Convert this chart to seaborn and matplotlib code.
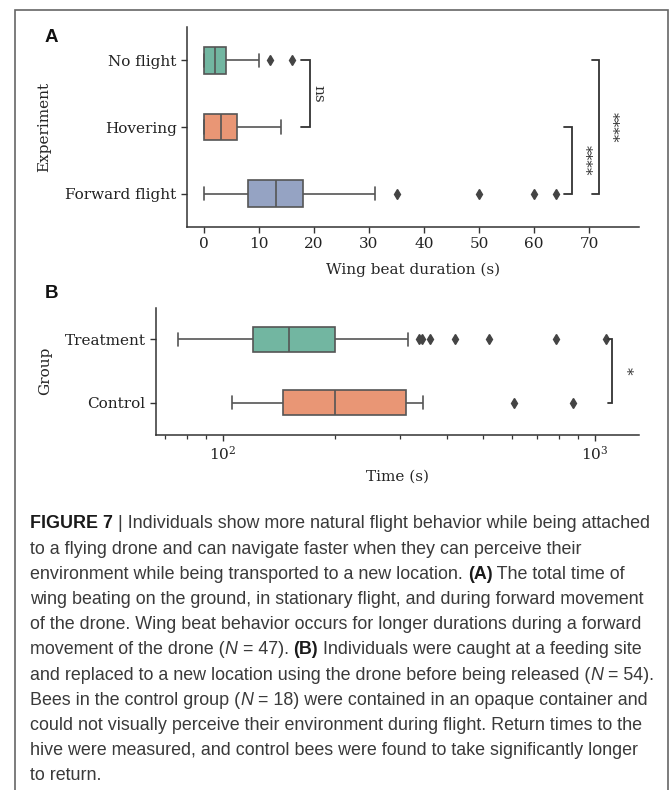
import numpy as np
import pandas as pd
import matplotlib
matplotlib.use("Agg")
import matplotlib.pyplot as plt
import seaborn as sns
from matplotlib.patches import Rectangle

# ---- Panel A: wing beat duration per experiment (s) ----
experiments = ["No flight", "Hovering", "Forward flight"]
no_flight = [0, 0, 0, 0, 1, 2, 2, 3, 4, 4, 10, 12, 16]
hovering = [0, 0, 0, 0, 1, 2, 3, 4, 5, 6, 8, 11, 14]
forward_flight = [0, 2, 4, 6, 7, 8, 9, 10, 11, 12, 13, 14, 15, 16, 17, 18,
                  31, 35, 50, 60, 64]
a_ticks = [0, 10, 20, 30, 40, 50, 60, 70]

# ---- Panel B: return time per group (s) ----
groups = ["Treatment", "Control"]
treatment = [75.7, 82, 90, 97, 103, 108, 113, 117, 121, 121,
             124, 128, 132, 136, 140, 144, 148, 151, 151,
             155, 160, 166, 172, 180, 188, 195, 201, 201,
             315, 336.6, 344, 360, 421.5, 520, 789, 1070]
control = [106, 118, 130, 140, 145.5, 145.5, 165, 185, 201, 201,
           240, 280, 312, 312, 330, 346, 606, 873]

# significance brackets: (x_end, x_bar, y_from, y_to, label)
brackets_a = [(17.6, 19.3, 0, 1, "ns"),
              (65.5, 66.9, 1, 2, "****"),
              (70.5, 71.8, 0, 2, "****")]
label_x_a = [20.8, 69.3, 74.2]
brackets_b = [(1084, 1115, 0, 1, "*")]
label_x_b = [1209]

caption_lines = [
    [("FIGURE 7 ", "bold"), ("| Individuals show more natural flight behavior while being attached", None)],
    [("to a flying drone and can navigate faster when they can perceive their", None)],
    [("environment while being transported to a new location. ", None), ("(A)", "bold"),
     (" The total time of", None)],
    [("wing beating on the ground, in stationary flight, and during forward movement", None)],
    [("of the drone. Wing beat behavior occurs for longer durations during a forward", None)],
    [("movement of the drone (", None), ("N", "italic"), (" = 47). ", None), ("(B)", "bold"),
     (" Individuals were caught at a feeding site", None)],
    [("and replaced to a new location using the drone before being released (", None),
     ("N", "italic"), (" = 54).", None)],
    [("Bees in the control group (", None), ("N", "italic"),
     (" = 18) were contained in an opaque container and", None)],
    [("could not visually perceive their environment during flight. Return times to the", None)],
    [("hive were measured, and control bees were found to take significantly longer", None)],
    [("to return.", None)],
]

sns.set_theme(style="ticks")
plt.rcParams["font.family"] = ["DejaVu Serif"]
plt.rcParams["mathtext.fontset"] = "dejavuserif"

W, H = 670, 790
fig = plt.figure(figsize=(W / 100, H / 100), dpi=100)


def axes_px(left, top, right, bottom):
    return fig.add_axes([left / W, 1 - bottom / H, (right - left) / W, (bottom - top) / H])


line_col = "#555555"
tick_fs = 11
flier_kw = dict(marker="d", markerfacecolor="#444444", markeredgecolor="#444444",
                markersize=4.8)

# ---------- Panel A ----------
axA = axes_px(187, 27, 639, 227)
dfA = pd.DataFrame({
    "Experiment": ["No flight"] * len(no_flight) + ["Hovering"] * len(hovering)
                  + ["Forward flight"] * len(forward_flight),
    "Wing beat duration (s)": no_flight + hovering + forward_flight,
})
sns.boxplot(data=dfA, x="Wing beat duration (s)", y="Experiment", hue="Experiment",
            order=experiments, hue_order=experiments, palette="Set2", orient="h",
            width=0.4, linewidth=1.2, linecolor=line_col, flierprops=flier_kw,
            legend=False, ax=axA)
axA.set_xlim(-3.1, 79.1)
axA.set_ylim(2.5, -0.5)
axA.set_xticks(a_ticks)
for (x0, x1, y0, y1, lab), tx in zip(brackets_a, label_x_a):
    axA.plot([x0, x1, x1, x0], [y0, y0, y1, y1], color="#333333", lw=1.3,
             solid_joinstyle="miter", clip_on=False)
    axA.text(tx, (y0 + y1) / 2, lab, rotation=-90, ha="center", va="center",
             fontsize=tick_fs, color="#333333")
axA.set_xlabel("Wing beat duration (s)", fontsize=tick_fs)
axA.set_ylabel("Experiment", fontsize=tick_fs)
axA.yaxis.set_label_coords(-0.301, 0.5)
axA.xaxis.set_label_coords(0.5, -0.18)

# ---------- Panel B ----------
axB = axes_px(156, 307.5, 639, 434.5)
dfB = pd.DataFrame({
    "Group": ["Treatment"] * len(treatment) + ["Control"] * len(control),
    "Time (s)": treatment + control,
})
sns.boxplot(data=dfB, x="Time (s)", y="Group", hue="Group", order=groups,
            hue_order=groups, palette="Set2", orient="h", width=0.4, linewidth=1.2,
            linecolor=line_col, flierprops=flier_kw, legend=False, ax=axB)
axB.set_xscale("log")
axB.set_xlim(66.2, 1316)
axB.set_ylim(1.5, -0.5)
for (x0, x1, y0, y1, lab), tx in zip(brackets_b, label_x_b):
    axB.plot([x0, x1, x1, x0], [y0, y0, y1, y1], color="#333333", lw=1.3,
             solid_joinstyle="miter", clip_on=False)
    axB.text(tx, (y0 + y1) / 2, lab, rotation=-90, ha="center", va="center",
             fontsize=tick_fs, color="#333333")
axB.set_xlabel("Time (s)", fontsize=tick_fs)
axB.set_ylabel("Group", fontsize=tick_fs)
axB.yaxis.set_label_coords(-0.215, 0.5)
axB.xaxis.set_label_coords(0.5, -0.276)

for ax in (axA, axB):
    sns.despine(ax=ax)
    for s in ("left", "bottom"):
        ax.spines[s].set_color("#333333")
        ax.spines[s].set_linewidth(1.1)
    ax.tick_params(axis="both", which="major", length=4.5, width=1.0, pad=3,
                   labelsize=tick_fs, colors="#333333", labelcolor="#222222")
    ax.tick_params(axis="x", which="minor", length=3.2, width=0.9, colors="#333333")

# ---------- panel letters ----------
for (x, y, s) in [(51, 38, "A"), (52, 294, "B")]:
    fig.text(x / W, 1 - y / H, s, fontsize=13.5, weight="bold", ha="center",
             va="center", family=["Liberation Sans", "DejaVu Sans"], color="#111111")

# ---------- outer frame ----------
fig.add_artist(Rectangle((15 / W, -0.02), (668 - 15) / W, 1 - 10 / H + 0.02,
                         transform=fig.transFigure, fill=False, edgecolor="#666666",
                         lw=1.2))

# ---------- caption ----------
renderer = fig.canvas.get_renderer()
cap_fs = 12.9
cap_col = "#3a3a3a"
x_start = 30
for i, runs in enumerate(caption_lines):
    y = 1 - (528.5 + 25.2 * i) / H
    x = x_start / W
    for txt, style in runs:
        kw = dict(fontsize=cap_fs, color=cap_col, va="baseline", ha="left",
                  family=["Liberation Sans", "DejaVu Sans"])
        if style == "bold":
            kw["weight"] = "bold"
            kw["color"] = "#1a1a1a"
        elif style == "italic":
            kw["style"] = "italic"
        t = fig.text(x, y, txt, **kw)
        bb = t.get_window_extent(renderer)
        x += bb.width / fig.bbox.width

fig.savefig("out.png", dpi=100)
